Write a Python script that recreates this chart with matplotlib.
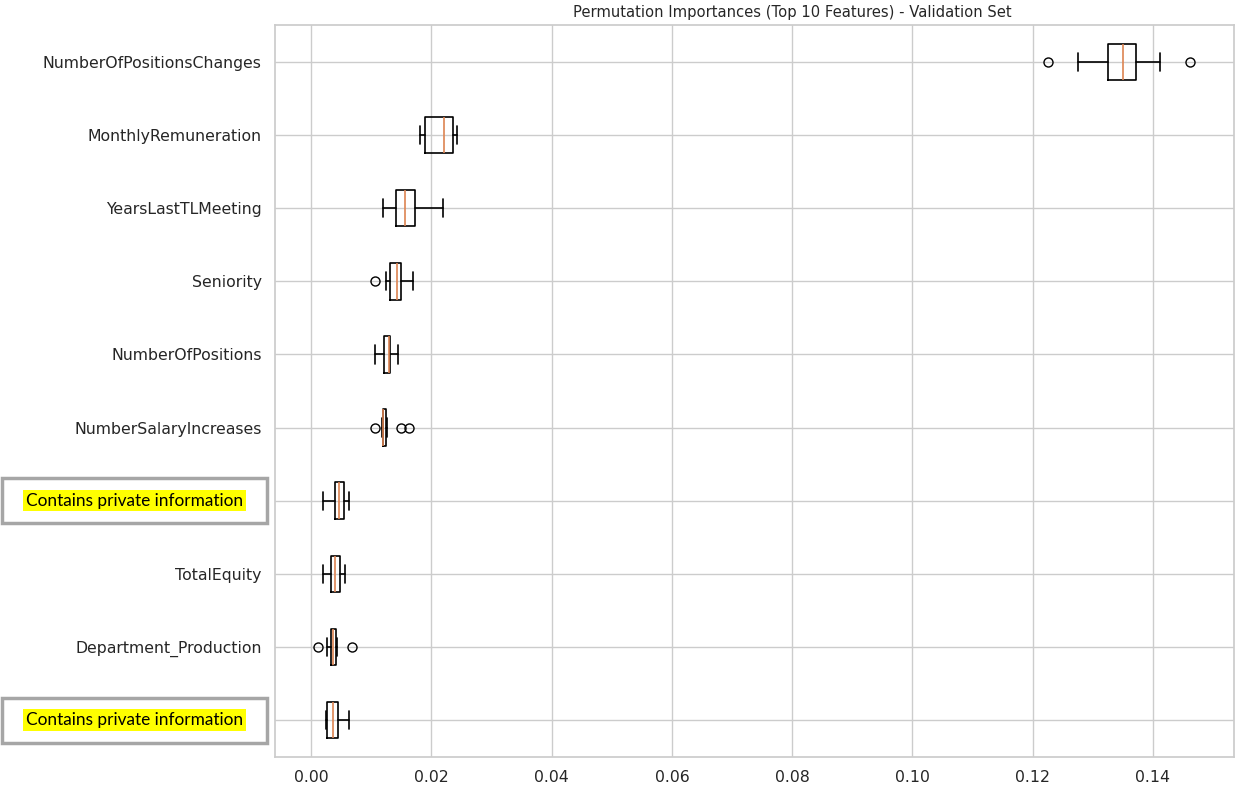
import matplotlib.pyplot as plt
from matplotlib.patches import Rectangle
import seaborn as sns

# Top 10 features, from top to bottom of the chart
features = ['NumberOfPositionsChanges', 'MonthlyRemuneration', 'YearsLastTLMeeting',
            'Seniority', 'NumberOfPositions', 'NumberSalaryIncreases', '',
            'TotalEquity', 'Department_Production', '']
whislo = [0.1275, 0.0181, 0.0119, 0.0125, 0.0106, 0.0118, 0.0019, 0.0019, 0.0026, 0.0025]
q1 = [0.1326, 0.0190, 0.0141, 0.0132, 0.0121, 0.0119, 0.0039, 0.0033, 0.0033, 0.0027]
med = [0.1351, 0.0221, 0.0156, 0.0143, 0.0130, 0.0119, 0.0047, 0.0040, 0.0036, 0.0037]
q3 = [0.1372, 0.0236, 0.0173, 0.0150, 0.0132, 0.0125, 0.0055, 0.0048, 0.0042, 0.0044]
whishi = [0.1412, 0.0243, 0.0219, 0.0169, 0.0144, 0.0126, 0.0063, 0.0056, 0.0043, 0.0063]
fliers = [[0.1226, 0.1462], [], [], [0.0106], [], [0.0106, 0.0149, 0.0162],
          [], [], [0.0012, 0.0068], []]
private_rows = [6, 9]

sns.set_theme(style='whitegrid')

stats = []
for i in range(len(features)):
    stats.append({'label': features[i], 'whislo': whislo[i], 'q1': q1[i], 'med': med[i],
                  'q3': q3[i], 'whishi': whishi[i], 'fliers': fliers[i]})

fig = plt.figure(figsize=(12.36, 7.87), dpi=100)
ax = fig.add_axes([0.2225, 0.0385, 0.776, 0.9293])

n = len(features)
positions = list(range(n, 0, -1))
ax.bxp(stats, positions=positions, vert=False,
       boxprops=dict(color='black', linewidth=1.2), whiskerprops=dict(color='black', linewidth=1.2),
       capprops=dict(color='black', linewidth=1.2), medianprops=dict(color='#dd8452', linewidth=1.2),
       flierprops=dict(marker='o', markerfacecolor='none', markeredgecolor='black', markersize=6.5))
ax.set_xlim(-0.006, 0.1535)
ax.set_ylim(0.5, n + 0.5)
ax.tick_params(axis='both', labelsize=11.3)
ax.set_title('Permutation Importances (Top 10 Features) - Validation Set', fontsize=10.6,
             x=0.539, pad=6)

# redacted labels
for r in private_rows:
    y = positions[r]
    yf = ax.transData.transform((0, y))[1] / fig.bbox.height
    fig.patches.append(Rectangle((0.002, yf - 0.0285), 0.214, 0.057, transform=fig.transFigure,
                                 facecolor='white', edgecolor='#a6a6a6', linewidth=2.5))
    fig.text(0.109, yf, 'Contains private information', ha='center', va='center',
             fontsize=12.4, family=['Lato', 'DejaVu Sans'], color='black',
             bbox=dict(facecolor='yellow', edgecolor='none', pad=2))

plt.savefig('out.png', dpi=100)
plt.close()
